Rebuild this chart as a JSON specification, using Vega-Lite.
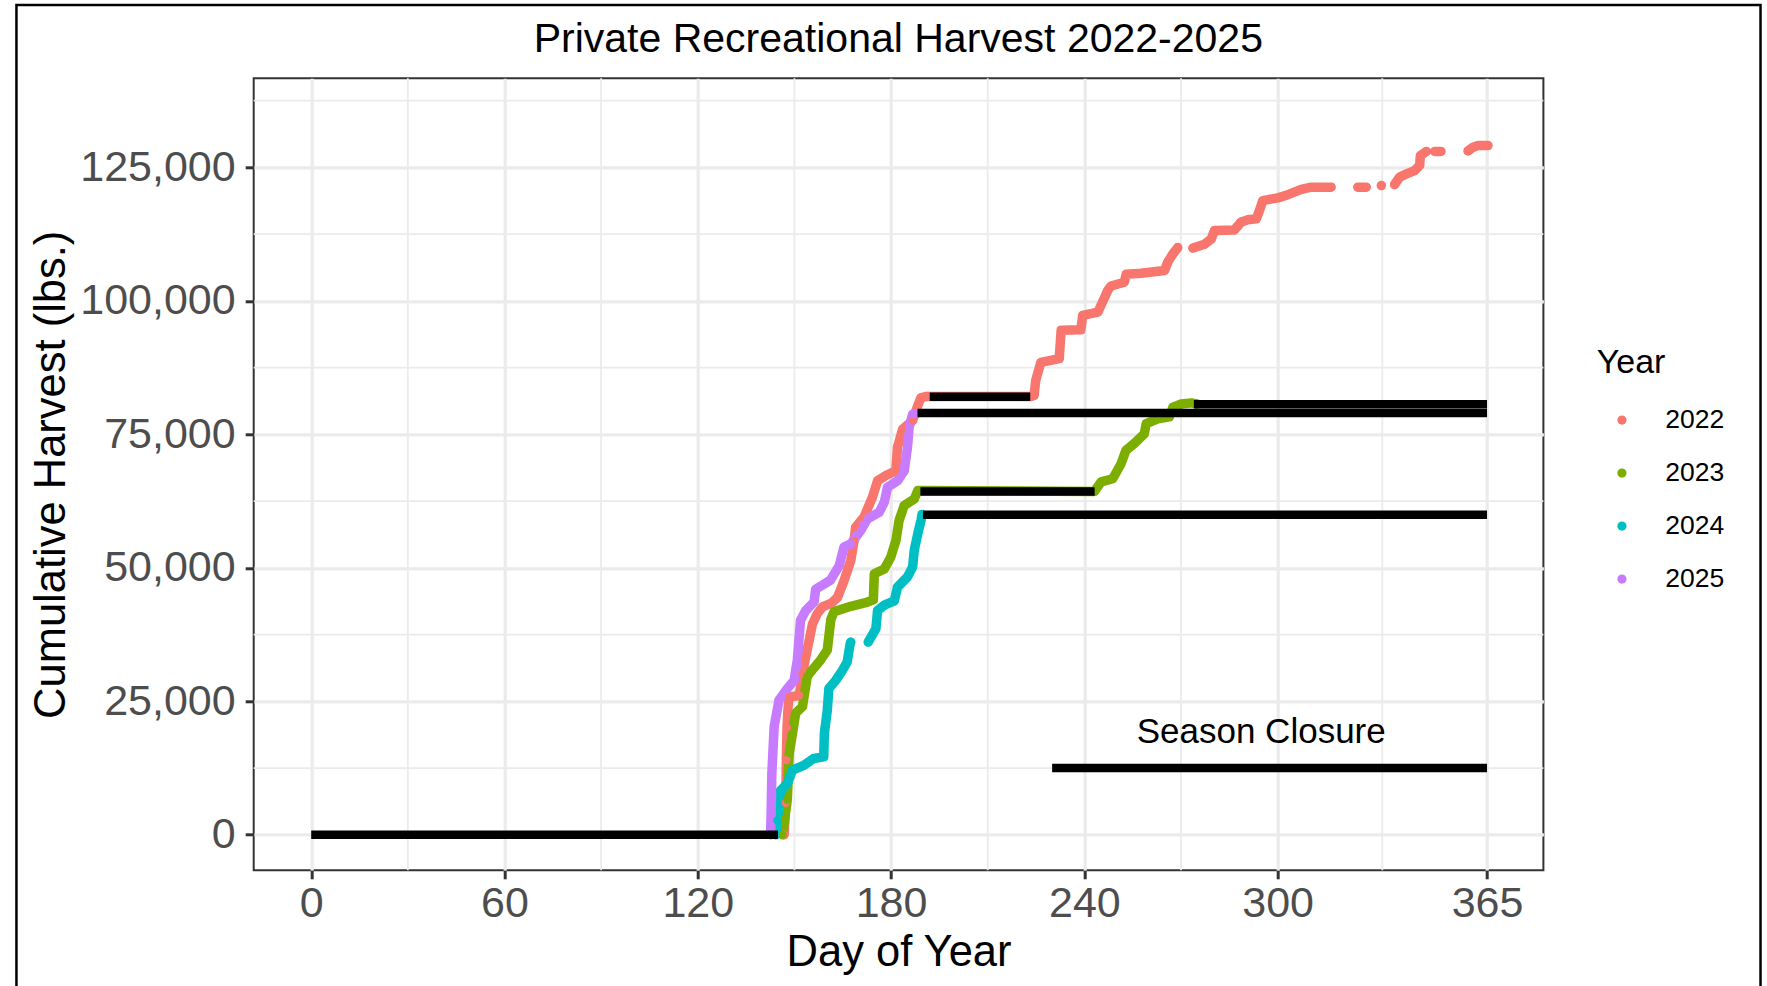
{
  "$schema": "https://vega.github.io/schema/vega-lite/v6.json",
  "width": 1289.7,
  "height": 792,
  "autosize": {"type": "none"},
  "padding": {"left": 253.7, "top": 78.3, "right": 223.6, "bottom": 115.7},
  "background": "white",
  "config": {
    "view": {"stroke": "#333333", "strokeWidth": 2},
    "axis": {
      "grid": true, "gridColor": "#EBEBEB", "gridWidth": 3.2,
      "domain": false, "ticks": true, "tickColor": "#333333", "tickWidth": 3, "tickSize": 8.5,
      "labelFont": "Liberation Sans", "labelFontSize": 43, "labelColor": "#4D4D4D",
      "labelFlush": false, "labelOverlap": false,
      "titleFont": "Liberation Sans", "titleFontSize": 43.5, "titleFontWeight": "normal", "titleColor": "black"
    },
    "legend": {
      "titleFont": "Liberation Sans", "titleFontSize": 34, "titleFontWeight": "normal", "titleColor": "black", "titlePadding": 27,
      "labelFont": "Liberation Sans", "labelFontSize": 26.5, "labelColor": "black", "labelOffset": 30,
      "symbolType": "circle", "symbolSize": 85, "symbolOffset": 12, "symbolStrokeWidth": 0, "rowPadding": 26, "padding": 0
    },
    "text": {"font": "Liberation Sans"}
  },
  "datasets": {
    "harvest": [
      {"Year":"2022","run":"a","day":146.8,"h":0},
      {"Year":"2022","run":"a","day":147.3,"h":6000},
      {"Year":"2022","run":"a","day":147.5,"h":14000},
      {"Year":"2022","run":"a","day":147.7,"h":20000},
      {"Year":"2022","run":"a","day":148.1,"h":24500},
      {"Year":"2022","run":"a","day":148.4,"h":25800},
      {"Year":"2022","run":"a","day":151.5,"h":26100},
      {"Year":"2022","run":"a","day":152.5,"h":30200},
      {"Year":"2022","run":"a","day":153.5,"h":33300},
      {"Year":"2022","run":"a","day":154.6,"h":36500},
      {"Year":"2022","run":"a","day":155.6,"h":39500},
      {"Year":"2022","run":"a","day":157.1,"h":41400},
      {"Year":"2022","run":"a","day":158.7,"h":42700},
      {"Year":"2022","run":"a","day":161.5,"h":43400},
      {"Year":"2022","run":"a","day":163.4,"h":44500},
      {"Year":"2022","run":"a","day":165.4,"h":47600},
      {"Year":"2022","run":"a","day":167.5,"h":51400},
      {"Year":"2022","run":"a","day":168.5,"h":55000},
      {"Year":"2022","run":"a","day":169.0,"h":57600},
      {"Year":"2022","run":"a","day":171.6,"h":59500},
      {"Year":"2022","run":"a","day":173.0,"h":61500},
      {"Year":"2022","run":"a","day":174.2,"h":63200},
      {"Year":"2022","run":"a","day":175.8,"h":66300},
      {"Year":"2022","run":"a","day":178.4,"h":67300},
      {"Year":"2022","run":"a","day":181.5,"h":68200},
      {"Year":"2022","run":"a","day":182.0,"h":72600},
      {"Year":"2022","run":"a","day":183.6,"h":76000},
      {"Year":"2022","run":"a","day":186.7,"h":77600},
      {"Year":"2022","run":"a","day":188.3,"h":80400},
      {"Year":"2022","run":"a","day":189.3,"h":81900},
      {"Year":"2022","run":"a","day":191.0,"h":82100},
      {"Year":"2022","run":"a","day":223.4,"h":82100},
      {"Year":"2022","run":"a","day":224.4,"h":82300},
      {"Year":"2022","run":"a","day":224.9,"h":85100},
      {"Year":"2022","run":"a","day":226.5,"h":88500},
      {"Year":"2022","run":"a","day":232.2,"h":89200},
      {"Year":"2022","run":"a","day":232.8,"h":94500},
      {"Year":"2022","run":"a","day":238.9,"h":94600},
      {"Year":"2022","run":"a","day":239.5,"h":97300},
      {"Year":"2022","run":"a","day":244.2,"h":97900},
      {"Year":"2022","run":"a","day":247.3,"h":102000},
      {"Year":"2022","run":"a","day":248.3,"h":102800},
      {"Year":"2022","run":"a","day":252.4,"h":103500},
      {"Year":"2022","run":"a","day":253.0,"h":105000},
      {"Year":"2022","run":"a","day":257.6,"h":105200},
      {"Year":"2022","run":"a","day":264.9,"h":105700},
      {"Year":"2022","run":"a","day":265.9,"h":107300},
      {"Year":"2022","run":"a","day":267.5,"h":108800},
      {"Year":"2022","run":"a","day":269.0,"h":110000},
      {"Year":"2022","run":"b","day":273.7,"h":109900},
      {"Year":"2022","run":"b","day":277.3,"h":110600},
      {"Year":"2022","run":"b","day":279.4,"h":111600},
      {"Year":"2022","run":"b","day":280.4,"h":113200},
      {"Year":"2022","run":"b","day":286.6,"h":113300},
      {"Year":"2022","run":"b","day":288.7,"h":114800},
      {"Year":"2022","run":"b","day":290.8,"h":115200},
      {"Year":"2022","run":"b","day":293.4,"h":115400},
      {"Year":"2022","run":"b","day":294.4,"h":117000},
      {"Year":"2022","run":"b","day":295.4,"h":118800},
      {"Year":"2022","run":"b","day":300.1,"h":119300},
      {"Year":"2022","run":"b","day":303.2,"h":119900},
      {"Year":"2022","run":"b","day":307.3,"h":120900},
      {"Year":"2022","run":"b","day":310.4,"h":121300},
      {"Year":"2022","run":"b","day":316.6,"h":121300},
      {"Year":"2022","run":"c","day":324.9,"h":121300},
      {"Year":"2022","run":"c","day":327.5,"h":121300},
      {"Year":"2022","run":"d","day":332.2,"h":121600},
      {"Year":"2022","run":"e","day":336.3,"h":121800},
      {"Year":"2022","run":"e","day":337.9,"h":123200},
      {"Year":"2022","run":"e","day":340.0,"h":123800},
      {"Year":"2022","run":"e","day":342.5,"h":124400},
      {"Year":"2022","run":"e","day":344.1,"h":125400},
      {"Year":"2022","run":"e","day":344.3,"h":127200},
      {"Year":"2022","run":"e","day":346.2,"h":128000},
      {"Year":"2022","run":"f","day":348.8,"h":128000},
      {"Year":"2022","run":"f","day":350.7,"h":128000},
      {"Year":"2022","run":"g","day":359.1,"h":128100},
      {"Year":"2022","run":"g","day":360.7,"h":128800},
      {"Year":"2022","run":"g","day":362.2,"h":129100},
      {"Year":"2022","run":"g","day":365.3,"h":129100},
      {"Year":"2023","run":"a","day":146.3,"h":0},
      {"Year":"2023","run":"a","day":147.0,"h":3000},
      {"Year":"2023","run":"a","day":147.8,"h":6600},
      {"Year":"2023","run":"a","day":148.4,"h":15300},
      {"Year":"2023","run":"a","day":149.4,"h":19000},
      {"Year":"2023","run":"a","day":150.4,"h":22800},
      {"Year":"2023","run":"a","day":152.5,"h":24000},
      {"Year":"2023","run":"a","day":154.0,"h":29700},
      {"Year":"2023","run":"a","day":155.6,"h":30900},
      {"Year":"2023","run":"a","day":158.2,"h":32800},
      {"Year":"2023","run":"a","day":160.2,"h":34600},
      {"Year":"2023","run":"a","day":161.3,"h":40300},
      {"Year":"2023","run":"a","day":162.3,"h":41800},
      {"Year":"2023","run":"a","day":167.5,"h":42800},
      {"Year":"2023","run":"a","day":172.7,"h":43600},
      {"Year":"2023","run":"a","day":174.5,"h":44000},
      {"Year":"2023","run":"a","day":174.8,"h":48900},
      {"Year":"2023","run":"a","day":177.9,"h":49800},
      {"Year":"2023","run":"a","day":179.9,"h":52000},
      {"Year":"2023","run":"a","day":181.5,"h":55100},
      {"Year":"2023","run":"a","day":182.5,"h":58900},
      {"Year":"2023","run":"a","day":184.1,"h":61700},
      {"Year":"2023","run":"a","day":187.2,"h":62900},
      {"Year":"2023","run":"a","day":188.3,"h":64500},
      {"Year":"2023","run":"a","day":243.1,"h":64300},
      {"Year":"2023","run":"a","day":245.2,"h":66100},
      {"Year":"2023","run":"a","day":248.8,"h":66700},
      {"Year":"2023","run":"a","day":251.4,"h":69500},
      {"Year":"2023","run":"a","day":252.9,"h":72000},
      {"Year":"2023","run":"a","day":255.5,"h":73300},
      {"Year":"2023","run":"a","day":258.6,"h":75100},
      {"Year":"2023","run":"a","day":259.2,"h":77000},
      {"Year":"2023","run":"a","day":262.8,"h":77900},
      {"Year":"2023","run":"a","day":266.4,"h":78300},
      {"Year":"2023","run":"a","day":267.5,"h":80100},
      {"Year":"2023","run":"a","day":270.1,"h":80700},
      {"Year":"2023","run":"a","day":273.2,"h":80900},
      {"Year":"2023","run":"a","day":275.0,"h":80700},
      {"Year":"2024","run":"a","day":144.2,"h":0},
      {"Year":"2024","run":"a","day":144.7,"h":2700},
      {"Year":"2024","run":"a","day":145.7,"h":8300},
      {"Year":"2024","run":"a","day":147.8,"h":9600},
      {"Year":"2024","run":"a","day":149.4,"h":12100},
      {"Year":"2024","run":"a","day":152.9,"h":13000},
      {"Year":"2024","run":"a","day":156.0,"h":14300},
      {"Year":"2024","run":"a","day":159.1,"h":14600},
      {"Year":"2024","run":"a","day":159.3,"h":19000},
      {"Year":"2024","run":"a","day":160.2,"h":23300},
      {"Year":"2024","run":"a","day":160.7,"h":27400},
      {"Year":"2024","run":"a","day":162.8,"h":28900},
      {"Year":"2024","run":"a","day":164.9,"h":30800},
      {"Year":"2024","run":"a","day":166.4,"h":32400},
      {"Year":"2024","run":"a","day":167.3,"h":35800},
      {"Year":"2024","run":"a","day":167.5,"h":36100},
      {"Year":"2024","run":"b","day":172.9,"h":36100},
      {"Year":"2024","run":"b","day":175.3,"h":38600},
      {"Year":"2024","run":"b","day":175.8,"h":42000},
      {"Year":"2024","run":"b","day":177.9,"h":43000},
      {"Year":"2024","run":"b","day":181.0,"h":43800},
      {"Year":"2024","run":"b","day":182.0,"h":46400},
      {"Year":"2024","run":"b","day":185.1,"h":48300},
      {"Year":"2024","run":"b","day":186.7,"h":50200},
      {"Year":"2024","run":"b","day":187.2,"h":53300},
      {"Year":"2024","run":"b","day":188.3,"h":56400},
      {"Year":"2024","run":"b","day":189.3,"h":58900},
      {"Year":"2024","run":"b","day":189.6,"h":60000},
      {"Year":"2025","run":"a","day":142.6,"h":0},
      {"Year":"2025","run":"a","day":142.8,"h":5000},
      {"Year":"2025","run":"a","day":143.0,"h":11500},
      {"Year":"2025","run":"a","day":143.7,"h":20200},
      {"Year":"2025","run":"a","day":145.2,"h":25200},
      {"Year":"2025","run":"a","day":147.8,"h":27400},
      {"Year":"2025","run":"a","day":149.9,"h":28900},
      {"Year":"2025","run":"a","day":150.9,"h":32700},
      {"Year":"2025","run":"a","day":151.9,"h":40200},
      {"Year":"2025","run":"a","day":153.5,"h":42000},
      {"Year":"2025","run":"a","day":156.1,"h":43600},
      {"Year":"2025","run":"a","day":156.6,"h":46000},
      {"Year":"2025","run":"a","day":161.2,"h":47700},
      {"Year":"2025","run":"a","day":163.9,"h":50400},
      {"Year":"2025","run":"a","day":165.4,"h":53900},
      {"Year":"2025","run":"a","day":167.5,"h":54500},
      {"Year":"2025","run":"a","day":170.6,"h":57000},
      {"Year":"2025","run":"a","day":172.7,"h":59200},
      {"Year":"2025","run":"a","day":176.3,"h":60400},
      {"Year":"2025","run":"a","day":177.9,"h":62300},
      {"Year":"2025","run":"a","day":178.9,"h":65100},
      {"Year":"2025","run":"a","day":182.0,"h":66300},
      {"Year":"2025","run":"a","day":184.1,"h":68200},
      {"Year":"2025","run":"a","day":185.1,"h":72600},
      {"Year":"2025","run":"a","day":185.6,"h":76300},
      {"Year":"2025","run":"a","day":186.7,"h":78800},
      {"Year":"2025","run":"a","day":188.2,"h":79000}
    ],
    "closures": [
      {"day":0,"day2":144.9,"h":0},
      {"day":192,"day2":223.2,"h":82060},
      {"day":188.2,"day2":365,"h":79030},
      {"day":189.1,"day2":243.2,"h":64290},
      {"day":274,"day2":365,"h":80650},
      {"day":189.9,"day2":365,"h":59930},
      {"day":230,"day2":365,"h":12500}
    ]
  },
  "layer": [
    {
      "data": {"values": [{"v":30},{"v":90},{"v":150},{"v":210},{"v":270},{"v":332.5}]},
      "mark": {"type": "rule", "color": "#EBEBEB", "strokeWidth": 1.8},
      "encoding": {
        "x": {"field": "v", "type": "quantitative", "scale": {"domain": [-17.85, 382.5], "nice": false, "zero": false},
              "axis": {"values": [0,60,120,180,240,300,365], "title": "Day of Year", "labelPadding": 4, "titlePadding": 6}}
      }
    },
    {
      "data": {"values": [{"v":12500},{"v":37500},{"v":62500},{"v":87500},{"v":112500},{"v":137500}]},
      "mark": {"type": "rule", "color": "#EBEBEB", "strokeWidth": 1.8},
      "encoding": {
        "y": {"field": "v", "type": "quantitative", "scale": {"domain": [-6650, 141700], "nice": false, "zero": false},
              "axis": {"values": [0,25000,50000,75000,100000,125000], "format": ",d", "title": "Cumulative Harvest (lbs.)", "labelPadding": 10, "titlePadding": 6.5}}
      }
    },
    {
      "data": {"name": "harvest"},
      "mark": {"type": "line", "strokeWidth": 9.5, "strokeCap": "round", "strokeJoin": "round"},
      "encoding": {
        "x": {"field": "day", "type": "quantitative", "scale": {"domain": [-17.85, 382.5], "nice": false, "zero": false},
              "axis": {"values": [0,60,120,180,240,300,365], "title": "Day of Year", "labelPadding": 4, "titlePadding": 6}},
        "y": {"field": "h", "type": "quantitative", "scale": {"domain": [-6650, 141700], "nice": false, "zero": false},
              "axis": {"values": [0,25000,50000,75000,100000,125000], "format": ",d", "title": "Cumulative Harvest (lbs.)", "labelPadding": 10, "titlePadding": 6.5}},
        "color": {"field": "Year", "type": "nominal", "scale": {"domain": ["2022","2023","2024","2025"], "range": ["#F8766D","#7CAE00","#00BFC4","#C77CFF"]},
          "legend": {"orient": "none", "legendX": 1343, "legendY": 267.5, "title": "Year", "symbolType": "circle", "symbolSize": 85, "symbolStrokeWidth": 0}},
        "detail": {"field": "run", "type": "nominal"}
      }
    },
    {
      "data": {"name": "harvest"},
      "mark": {"type": "circle", "size": 70, "opacity": 1},
      "encoding": {
        "x": {"field": "day", "type": "quantitative", "scale": {"domain": [-17.85, 382.5], "nice": false, "zero": false},
              "axis": {"values": [0,60,120,180,240,300,365], "title": "Day of Year", "labelPadding": 4, "titlePadding": 6}},
        "y": {"field": "h", "type": "quantitative", "scale": {"domain": [-6650, 141700], "nice": false, "zero": false},
              "axis": {"values": [0,25000,50000,75000,100000,125000], "format": ",d", "title": "Cumulative Harvest (lbs.)", "labelPadding": 10, "titlePadding": 6.5}},
        "color": {"field": "Year", "type": "nominal", "scale": {"domain": ["2022","2023","2024","2025"], "range": ["#F8766D","#7CAE00","#00BFC4","#C77CFF"]},
          "legend": {"orient": "none", "legendX": 1343, "legendY": 267.5, "title": "Year", "symbolType": "circle", "symbolSize": 85, "symbolStrokeWidth": 0}}
      }
    },
    {
      "data": {"name": "closures"},
      "mark": {"type": "rule", "color": "black", "strokeWidth": 8.5},
      "encoding": {
        "x": {"field": "day", "type": "quantitative", "scale": {"domain": [-17.85, 382.5], "nice": false, "zero": false},
              "axis": {"values": [0,60,120,180,240,300,365], "title": "Day of Year", "labelPadding": 4, "titlePadding": 6}},
        "x2": {"field": "day2"},
        "y": {"field": "h", "type": "quantitative", "scale": {"domain": [-6650, 141700], "nice": false, "zero": false},
              "axis": {"values": [0,25000,50000,75000,100000,125000], "format": ",d", "title": "Cumulative Harvest (lbs.)", "labelPadding": 10, "titlePadding": 6.5}}
      }
    },
    {
      "data": {"values": [{}]},
      "mark": {"type": "text", "fontSize": 35, "align": "center", "baseline": "alphabetic", "color": "black"},
      "encoding": {
        "x": {"datum": 294.9, "type": "quantitative"},
        "y": {"datum": 17140, "type": "quantitative"},
        "text": {"value": "Season Closure"}
      }
    },
    {
      "data": {"values": [{}]},
      "mark": {"type": "text", "fontSize": 41, "align": "center", "baseline": "alphabetic", "color": "black", "clip": false},
      "encoding": {
        "x": {"datum": 182.25, "type": "quantitative"},
        "y": {"datum": 146680, "type": "quantitative"},
        "text": {"value": "Private Recreational Harvest 2022-2025"}
      }
    },
    {
      "data": {"values": [{}]},
      "mark": {"type": "rect", "fillOpacity": 0, "stroke": "black", "strokeWidth": 2.5, "clip": false},
      "encoding": {
        "x": {"datum": -91.5, "type": "quantitative"},
        "x2": {"datum": 449.9},
        "y": {"datum": 155430, "type": "quantitative"},
        "y2": {"datum": -40000}
      }
    }
  ]
}
